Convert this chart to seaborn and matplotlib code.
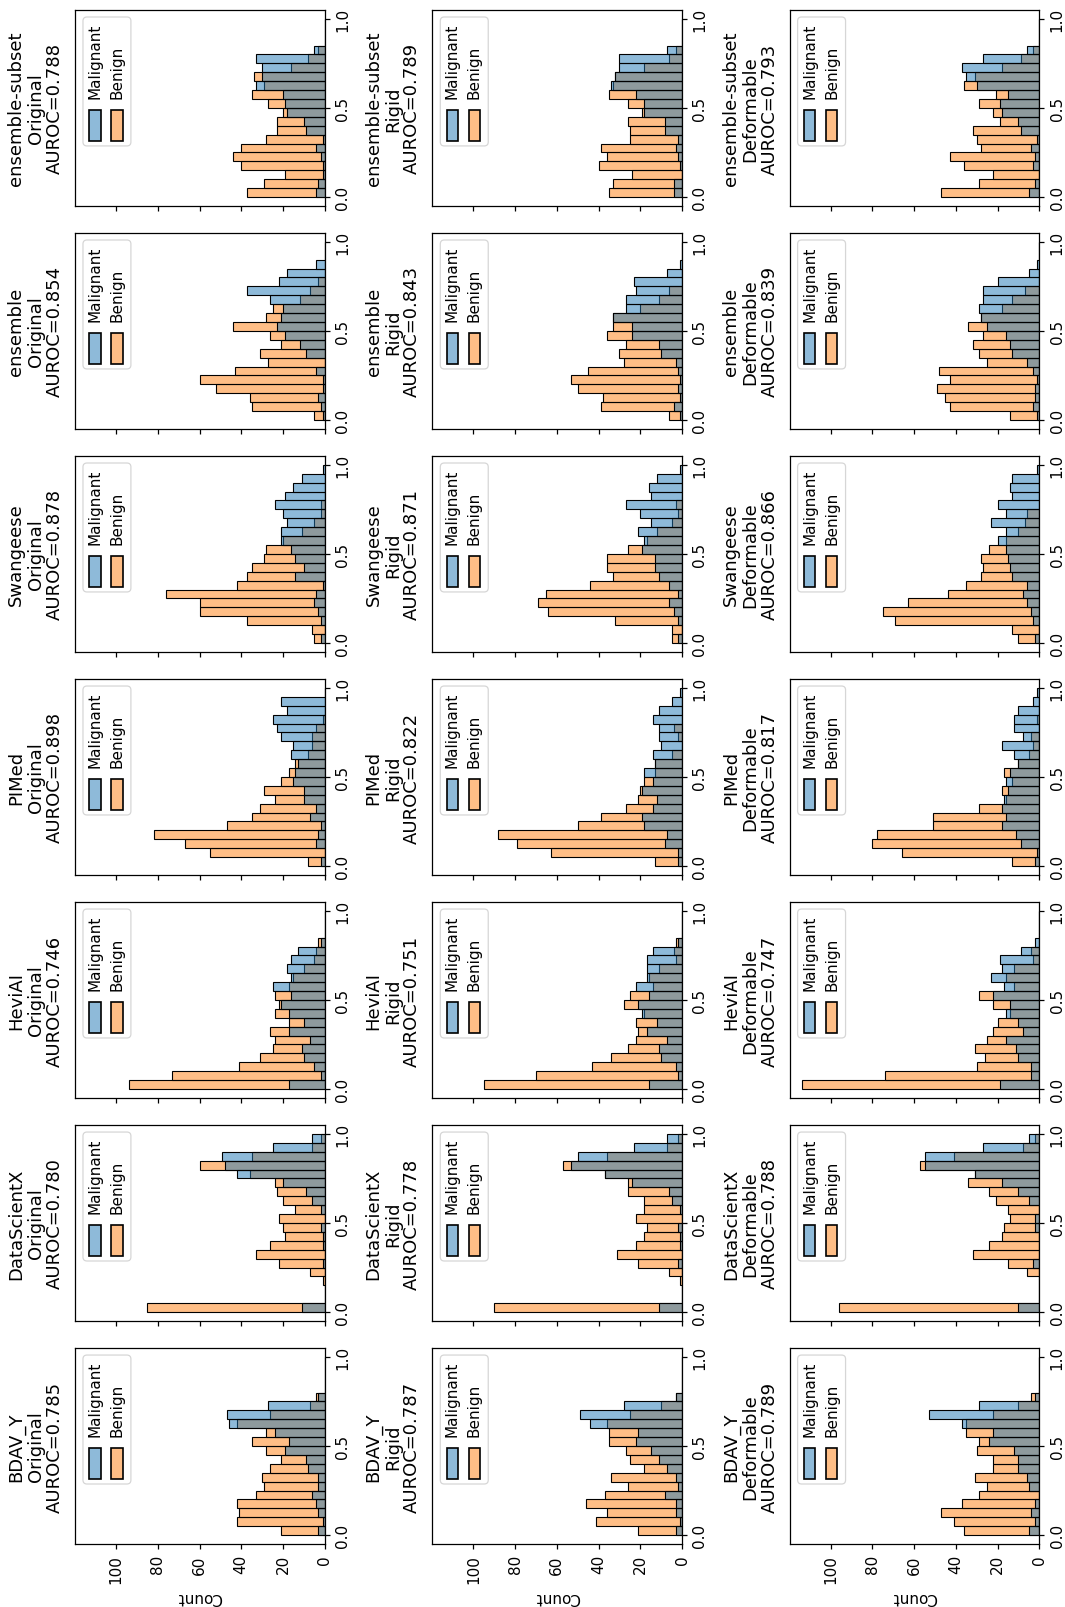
import numpy as np
import pandas as pd
import matplotlib
matplotlib.use("Agg")
import matplotlib.pyplot as plt
from matplotlib.patches import Rectangle, FancyBboxPatch
import seaborn as sns

# ---------------- data ----------------
TEAMS = ["BDAV_Y", "DataScientX", "HeviAI", "PIMed", "Swangeese", "ensemble", "ensemble-subset"]
CONDITIONS = ["Original", "Rigid", "Deformable"]
CLASSES = ["Malignant", "Benign"]

AUROC_ORIGINAL = [0.785, 0.780, 0.746, 0.898, 0.878, 0.854, 0.788]
AUROC_RIGID = [0.787, 0.778, 0.751, 0.822, 0.871, 0.843, 0.789]
AUROC_DEFORMABLE = [0.789, 0.788, 0.747, 0.817, 0.866, 0.839, 0.793]

BIN_EDGES = [0.0, 0.05, 0.1, 0.15, 0.2, 0.25, 0.3, 0.35, 0.4, 0.45, 0.5,
             0.55, 0.6, 0.65, 0.7, 0.75, 0.8, 0.85, 0.9, 0.95, 1.0]
COUNT_TICKS = [0, 20, 40, 60, 80, 100]
SCORE_TICKS = [0.0, 0.5, 1.0]

# counts per bin (score 0 -> 1)
BDAV_Y_ORIGINAL_MAL = [3, 1, 3, 4, 6, 3, 3, 8, 9, 19, 17, 24, 46, 47, 27, 3, 0, 0, 0, 0]
BDAV_Y_ORIGINAL_BEN = [21, 42, 41, 42, 33, 29, 30, 26, 21, 28, 35, 28, 42, 26, 7, 4, 0, 0, 0, 0]
DATASCIENTX_ORIGINAL_MAL = [11, 0, 0, 0, 0, 1, 0, 1, 1, 2, 0, 2, 6, 9, 20, 42, 48, 49, 25, 6]
DATASCIENTX_ORIGINAL_BEN = [85, 0, 0, 1, 7, 22, 33, 26, 19, 20, 22, 14, 20, 23, 24, 36, 60, 35, 6, 2]
HEVIAI_ORIGINAL_MAL = [17, 2, 5, 10, 11, 7, 17, 10, 17, 21, 16, 25, 16, 18, 16, 13, 2, 0, 0, 0]
HEVIAI_ORIGINAL_BEN = [94, 73, 41, 31, 25, 24, 26, 17, 24, 22, 24, 17, 15, 10, 5, 4, 3, 0, 0, 0]
PIMED_ORIGINAL_MAL = [2, 0, 4, 3, 2, 7, 4, 10, 10, 15, 14, 13, 16, 15, 21, 23, 25, 18, 21, 0]
PIMED_ORIGINAL_BEN = [8, 55, 67, 82, 47, 35, 31, 24, 29, 21, 17, 14, 8, 6, 6, 4, 1, 0, 0, 0]
SWANGEESE_ORIGINAL_MAL = [2, 0, 2, 3, 5, 4, 1, 14, 10, 14, 16, 21, 21, 18, 20, 24, 19, 15, 11, 1]
SWANGEESE_ORIGINAL_BEN = [5, 6, 37, 60, 60, 76, 42, 37, 35, 29, 28, 20, 11, 5, 2, 2, 0, 0, 0, 0]
ENSEMBLE_ORIGINAL_MAL = [1, 2, 3, 1, 1, 4, 0, 9, 12, 19, 23, 21, 20, 26, 37, 22, 18, 4, 0, 0]
ENSEMBLE_ORIGINAL_BEN = [5, 35, 36, 52, 60, 43, 27, 31, 21, 26, 44, 28, 25, 12, 7, 3, 0, 0, 0, 0]
SUBSET_ORIGINAL_MAL = [4, 3, 1, 1, 2, 4, 1, 9, 10, 18, 19, 20, 33, 30, 30, 33, 5, 0, 0, 0]
SUBSET_ORIGINAL_BEN = [37, 29, 19, 40, 44, 40, 28, 23, 23, 20, 27, 35, 29, 34, 16, 8, 3, 0, 0, 0]

BDAV_Y_RIGID_MAL = [3, 1, 3, 3, 8, 2, 3, 7, 11, 15, 22, 21, 44, 49, 28, 3, 0, 0, 0, 0]
BDAV_Y_RIGID_BEN = [21, 41, 36, 46, 37, 26, 34, 18, 25, 27, 35, 35, 36, 25, 10, 3, 0, 0, 0, 0]
DATASCIENTX_RIGID_MAL = [11, 0, 0, 0, 0, 2, 0, 1, 1, 2, 0, 1, 5, 6, 24, 37, 53, 50, 23, 7]
DATASCIENTX_RIGID_BEN = [90, 0, 0, 1, 6, 21, 31, 22, 18, 17, 22, 18, 18, 26, 26, 37, 57, 36, 7, 2]
HEVIAI_RIGID_MAL = [16, 2, 3, 10, 11, 7, 17, 12, 19, 21, 16, 22, 17, 17, 17, 14, 2, 0, 0, 0]
HEVIAI_RIGID_BEN = [95, 70, 43, 34, 26, 22, 21, 22, 18, 28, 25, 14, 16, 11, 3, 4, 3, 0, 0, 0]
PIMED_RIGID_MAL = [2, 2, 8, 7, 18, 19, 14, 12, 19, 14, 18, 13, 14, 10, 11, 11, 14, 11, 5, 1]
PIMED_RIGID_BEN = [13, 63, 79, 88, 50, 39, 27, 21, 20, 18, 13, 13, 5, 0, 2, 4, 0, 0, 0, 0]
SWANGEESE_RIGID_MAL = [2, 0, 2, 4, 6, 2, 6, 11, 13, 13, 19, 18, 21, 15, 20, 27, 15, 16, 12, 1]
SWANGEESE_RIGID_BEN = [5, 5, 32, 64, 69, 65, 44, 33, 36, 36, 26, 17, 12, 5, 2, 3, 0, 0, 0, 0]
ENSEMBLE_RIGID_MAL = [1, 4, 1, 2, 1, 2, 3, 10, 11, 24, 24, 33, 27, 27, 22, 23, 7, 1, 0, 0]
ENSEMBLE_RIGID_BEN = [6, 39, 38, 50, 53, 45, 28, 30, 27, 36, 33, 33, 20, 11, 6, 0, 0, 0, 0, 0]
SUBSET_RIGID_MAL = [4, 4, 0, 1, 2, 3, 2, 8, 8, 18, 18, 22, 34, 32, 30, 30, 7, 0, 0, 0]
SUBSET_RIGID_BEN = [35, 33, 24, 40, 36, 39, 25, 25, 26, 19, 26, 35, 33, 32, 18, 6, 3, 0, 0, 0]

BDAV_Y_DEFORMABLE_MAL = [5, 2, 4, 2, 0, 5, 6, 10, 10, 12, 24, 22, 37, 53, 29, 2, 0, 0, 0, 0]
BDAV_Y_DEFORMABLE_BEN = [36, 41, 47, 37, 29, 25, 31, 22, 22, 30, 29, 35, 35, 22, 10, 4, 0, 0, 0, 0]
DATASCIENTX_DEFORMABLE_MAL = [10, 0, 0, 0, 0, 3, 0, 0, 0, 2, 2, 0, 5, 10, 18, 31, 55, 55, 27, 5]
DATASCIENTX_DEFORMABLE_BEN = [96, 0, 0, 0, 6, 15, 32, 24, 18, 17, 14, 15, 21, 24, 34, 31, 57, 41, 8, 2]
HEVIAI_DEFORMABLE_MAL = [19, 4, 4, 10, 11, 16, 8, 10, 16, 14, 22, 17, 23, 18, 19, 9, 2, 0, 0, 0]
HEVIAI_DEFORMABLE_BEN = [114, 74, 30, 26, 31, 25, 22, 20, 14, 22, 29, 12, 16, 12, 3, 4, 0, 0, 0, 0]
PIMED_DEFORMABLE_MAL = [2, 1, 9, 11, 18, 16, 18, 17, 15, 16, 14, 10, 12, 18, 8, 12, 12, 10, 3, 1]
PIMED_DEFORMABLE_BEN = [13, 66, 80, 78, 51, 51, 29, 16, 18, 13, 17, 10, 5, 3, 4, 0, 1, 0, 0, 0]
SWANGEESE_DEFORMABLE_MAL = [2, 0, 3, 4, 6, 8, 6, 13, 14, 15, 16, 20, 16, 23, 16, 20, 13, 14, 13, 1]
SWANGEESE_DEFORMABLE_BEN = [10, 13, 69, 75, 63, 44, 35, 28, 27, 28, 24, 16, 10, 7, 6, 0, 0, 0, 0, 0]
ENSEMBLE_DEFORMABLE_MAL = [1, 3, 2, 2, 1, 3, 6, 13, 14, 16, 25, 28, 29, 27, 27, 20, 5, 1, 0, 0]
ENSEMBLE_DEFORMABLE_BEN = [14, 43, 45, 49, 43, 48, 25, 29, 32, 27, 34, 28, 18, 13, 7, 0, 0, 0, 0, 0]
SUBSET_DEFORMABLE_MAL = [5, 2, 0, 3, 2, 4, 1, 9, 10, 18, 19, 15, 30, 35, 37, 27, 6, 0, 0, 0]
SUBSET_DEFORMABLE_BEN = [47, 29, 22, 36, 43, 28, 30, 32, 19, 22, 29, 21, 36, 31, 18, 9, 3, 0, 0, 0]

COUNTS = {
    "Original": [
        (BDAV_Y_ORIGINAL_MAL, BDAV_Y_ORIGINAL_BEN),
        (DATASCIENTX_ORIGINAL_MAL, DATASCIENTX_ORIGINAL_BEN),
        (HEVIAI_ORIGINAL_MAL, HEVIAI_ORIGINAL_BEN),
        (PIMED_ORIGINAL_MAL, PIMED_ORIGINAL_BEN),
        (SWANGEESE_ORIGINAL_MAL, SWANGEESE_ORIGINAL_BEN),
        (ENSEMBLE_ORIGINAL_MAL, ENSEMBLE_ORIGINAL_BEN),
        (SUBSET_ORIGINAL_MAL, SUBSET_ORIGINAL_BEN),
    ],
    "Rigid": [
        (BDAV_Y_RIGID_MAL, BDAV_Y_RIGID_BEN),
        (DATASCIENTX_RIGID_MAL, DATASCIENTX_RIGID_BEN),
        (HEVIAI_RIGID_MAL, HEVIAI_RIGID_BEN),
        (PIMED_RIGID_MAL, PIMED_RIGID_BEN),
        (SWANGEESE_RIGID_MAL, SWANGEESE_RIGID_BEN),
        (ENSEMBLE_RIGID_MAL, ENSEMBLE_RIGID_BEN),
        (SUBSET_RIGID_MAL, SUBSET_RIGID_BEN),
    ],
    "Deformable": [
        (BDAV_Y_DEFORMABLE_MAL, BDAV_Y_DEFORMABLE_BEN),
        (DATASCIENTX_DEFORMABLE_MAL, DATASCIENTX_DEFORMABLE_BEN),
        (HEVIAI_DEFORMABLE_MAL, HEVIAI_DEFORMABLE_BEN),
        (PIMED_DEFORMABLE_MAL, PIMED_DEFORMABLE_BEN),
        (SWANGEESE_DEFORMABLE_MAL, SWANGEESE_DEFORMABLE_BEN),
        (ENSEMBLE_DEFORMABLE_MAL, ENSEMBLE_DEFORMABLE_BEN),
        (SUBSET_DEFORMABLE_MAL, SUBSET_DEFORMABLE_BEN),
    ],
}
AUROCS = {"Original": AUROC_ORIGINAL, "Rigid": AUROC_RIGID, "Deformable": AUROC_DEFORMABLE}

PALETTE = ["tab:blue", "tab:orange"]
FS = 11
TITLE_FS = 13

# ---------------- figure ----------------
plt.rcParams["font.family"] = ["DejaVu Sans"]
plt.rcParams["axes.linewidth"] = 0.9

fig, axes = plt.subplots(7, 3, figsize=(10.65, 16.08), dpi=100, sharex=True)
fig.subplots_adjust(left=0.0704, right=0.9759, top=0.9932, bottom=0.0392,
                    wspace=0.431, hspace=0.138)

centers = [(a + b) / 2 for a, b in zip(BIN_EDGES[:-1], BIN_EDGES[1:])]

for c, cond in enumerate(CONDITIONS):
    for t, team in enumerate(TEAMS):
        ax = axes[len(TEAMS) - 1 - t, c]
        mal, ben = COUNTS[cond][t]
        df = pd.DataFrame({
            "score": centers + centers,
            "count": list(mal) + list(ben),
            "label": [CLASSES[0]] * len(mal) + [CLASSES[1]] * len(ben),
        })
        sns.histplot(data=df, y="score", weights="count", hue="label",
                     hue_order=CLASSES, palette=PALETTE, bins=BIN_EDGES,
                     edgecolor="black", linewidth=0.8, legend=False, ax=ax)
        ax.set_ylabel("")
        ax.set_yticks(SCORE_TICKS)
        ax.yaxis.tick_right()
        ax.tick_params(axis="y", labelsize=FS, labelrotation=90, length=3.9, width=0.9)
        for lab in ax.get_yticklabels():
            lab.set_va("center")
        ax.tick_params(axis="x", labelsize=FS, labelrotation=90, length=3.9, width=0.9)
        ax.set_xticks(COUNT_TICKS)
        if t == 0:
            ax.set_xlabel("Count", rotation=180, fontsize=FS)
        else:
            ax.set_xlabel("")

        # rotated title (left of the panel)
        ax.text(-0.044, 0.5, f"{team}\n{cond}\nAUROC={AUROCS[cond][t]:.3f}",
                rotation=90, ha="right", va="center", multialignment="center",
                fontsize=TITLE_FS, linespacing=1.1, transform=ax.transAxes)

        # rotated legend (top-left corner)
        box = FancyBboxPatch((0.032, 0.306), 0.192, 0.658,
                             boxstyle="round,pad=0,rounding_size=0.016",
                             mutation_aspect=250 / 196,
                             transform=ax.transAxes, facecolor="white",
                             edgecolor="0.8", linewidth=0.9, alpha=0.8, zorder=5)
        ax.add_patch(box)
        for xp, col, txt, xt in [(0.057, PALETTE[0], CLASSES[0], 0.080),
                                 (0.145, PALETTE[1], CLASSES[1], 0.168)]:
            ax.add_patch(Rectangle((xp, 0.333), 0.046, 0.157, transform=ax.transAxes,
                                   facecolor=matplotlib.colors.to_rgba(col, 0.5),
                                   edgecolor="black", linewidth=1.2, zorder=6))
            ax.text(xt, 0.551, txt, rotation=90, ha="center", va="bottom",
                    fontsize=FS, transform=ax.transAxes, zorder=6)

axes[0, 0].invert_xaxis()

fig.savefig("out.png", dpi=100)
